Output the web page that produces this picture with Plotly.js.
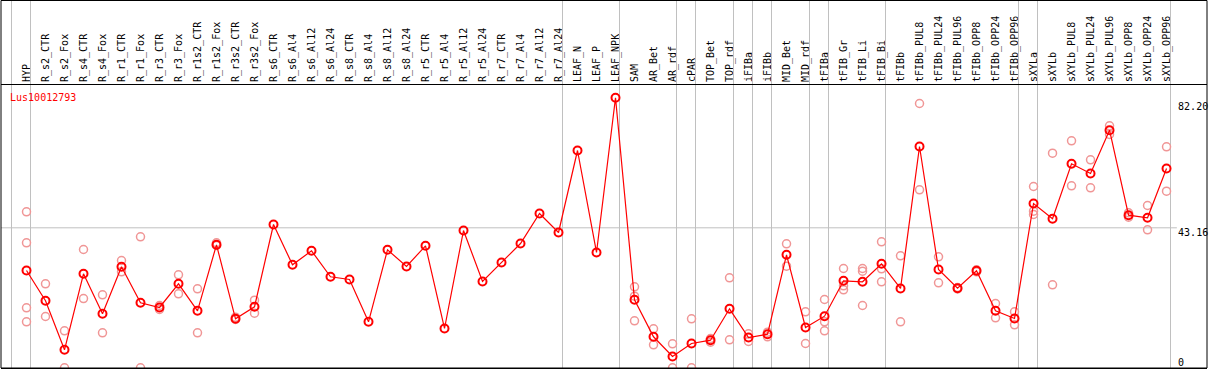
<!DOCTYPE html>
<html>
<head>
<meta charset="utf-8">
<script src="https://cdn.plot.ly/plotly-3.0.1.min.js"></script>
<style>html,body{margin:0;padding:0;background:#fff;}#chart{width:1209px;height:370px;}</style>
</head>
<body>
<div id="chart"></div>
<script>
const categories = ["HYP","R_s2_CTR","R_s2_Fox","R_s4_CTR","R_s4_Fox","R_r1_CTR","R_r1_Fox","R_r3_CTR","R_r3_Fox",
  "R_r1s2_CTR","R_r1s2_Fox","R_r3s2_CTR","R_r3s2_Fox","R_s6_CTR","R_s6_Al4","R_s6_Al12","R_s6_Al24",
  "R_s8_CTR","R_s8_Al4","R_s8_Al12","R_s8_Al24","R_r5_CTR","R_r5_Al4","R_r5_Al12","R_r5_Al24",
  "R_r7_CTR","R_r7_Al4","R_r7_Al12","R_r7_Al24","LEAF_N","LEAF_P","LEAF_NPK","SAM","AR_Bet","AR_rdf",
  "cPAR","TOP_Bet","TOP_rdf","iFIBa","iFIBb","MID_Bet","MID_rdf","tFIBa","tFIB_Gr","tFIB_Li","tFIB_Bi",
  "tFIBb","tFIBb_PUL8","tFIBb_PUL24","tFIBb_PUL96","tFIBb_OPP8","tFIBb_OPP24","tFIBb_OPP96",
  "sXYLa","sXYLb","sXYLb_PUL8","sXYLb_PUL24","sXYLb_PUL96","sXYLb_OPP8","sXYLb_OPP24","sXYLb_OPP96"];

const meanValues = [30.00,20.66,5.55,28.98,16.65,31.14,20.04,18.59,25.90,
  17.57,37.92,15.11,18.81,44.18,31.75,36.07,28.05,
  27.22,14.18,36.38,31.23,37.61,12.12,42.33,26.61,
  32.46,38.32,47.57,41.71,66.99,35.55,83.24,20.96,9.56,3.48,
  7.49,8.51,18.19,9.34,10.36,34.84,12.42,15.91,26.82,26.51,32.06,
  24.45,68.22,30.30,24.54,29.90,17.57,15.20,
  50.65,45.94,62.89,59.90,73.25,47.04,46.24,61.44];

const replicateValues = [
  [48.09,38.54,18.50,14.18],[25.90,15.82],[11.41,0.0],[36.47,21.36],[22.50,10.79],[33.08,29.60],[40.39,0.0],[19.21,17.97],[28.67,22.81],
  [24.35,10.79],[38.54,37.70],[15.60,14.89],[20.84,16.83],[],[],[],[],
  [],[],[],[],[],[],[],[],
  [],[],[],[],[],[],[],[24.97,22.07,14.49],[12.02,7.09],[7.40,0.0],
  [15.11,0.0],[9.03,7.89],[27.75,8.63],[10.48,8.11],[10.98,9.56],[38.23,31.32],[17.26,7.49],[21.06,14.18,11.41],[30.61,25.28,24.05],[30.61,29.78,19.21],[38.84,30.52,26.51],
  [34.53,14.18],[81.48,54.88],[34.22,26.20],[24.76,24.29],[30.21,29.60],[19.82,15.41],[17.26,13.26],
  [55.89,48.28,47.26],[66.16,25.59],[69.98,56.11],[64.12,55.49],[74.61,71.92],[47.78,46.43],[50.03,42.54],[68.13,54.44]];

const geneName = "Lus10012793";
const yTickVals = [0, 43.16, 82.20];
const yTickText = ["0", "43.16", "82.20"];
// categories after which a group separator is drawn (-1 = before the first)
const groupEndIndex = [-1, 0, 28, 31, 34, 35, 37, 38, 39, 41, 42, 45, 52, 53, 60];

const idx = categories.map((c, i) => i);
const repX = [], repY = [];
replicateValues.forEach((arr, i) => arr.forEach(v => { repX.push(i); repY.push(v); }));
const sepVals = groupEndIndex.map(i => i + 0.2);

const FONT = "DejaVu Sans Mono, monospace";
const GRAY = "rgb(192,192,192)";
const yRange = [-0.06, 87.18];
const headerFrac = 85 / 283;

const traces = [
  {x: repX, y: repY, type: "scatter", mode: "markers", hoverinfo: "skip",
   marker: {symbol: "circle-open", size: 8, color: "rgb(240,150,150)", line: {width: 1.5, color: "rgb(240,150,150)"}}},
  {x: idx, y: meanValues, type: "scatter", mode: "lines+markers",
   line: {color: "rgb(255,0,0)", width: 1.2},
   marker: {symbol: "circle-open", size: 8, color: "rgb(255,0,0)", line: {width: 2, color: "rgb(255,0,0)"}}},
  {x: [idx[0]], y: [yTickVals[0]], type: "scatter", mode: "markers", xaxis: "x2", yaxis: "y2",
   marker: {size: 0.1, opacity: 0}, hoverinfo: "skip"}
];

const layout = {
  width: 1209, height: 370,
  margin: {l: 1, r: 2, t: 85, b: 2, pad: 0},
  paper_bgcolor: "#fff", plot_bgcolor: "#fff",
  showlegend: false, hovermode: false,
  title: {text: geneName, font: {family: FONT, size: 10, color: "rgb(255,0,0)"},
          xref: "paper", x: 0.0075, xanchor: "left", yref: "paper", y: 0.955, yanchor: "middle", pad: {t: 0, b: 0, l: 0, r: 0}},
  xaxis: {range: [-1.342, 62.13], side: "top", tickmode: "array", tickvals: idx, ticktext: categories,
          tickangle: -90, tickfont: {family: FONT, size: 10, color: "#000"}, ticks: "", showgrid: false, zeroline: false,
          showline: true, mirror: true, linecolor: "#000", linewidth: 1, fixedrange: true},
  xaxis2: {range: [-1.342, 62.13], overlaying: "x", side: "top", anchor: "y", tickmode: "array", tickvals: sepVals,
           showticklabels: false, ticks: "outside", ticklen: 85, tickcolor: GRAY, tickwidth: 1,
           showgrid: true, gridcolor: GRAY, gridwidth: 1, zeroline: false, showline: false},
  yaxis: {range: yRange, side: "right", anchor: "free", position: 0.9752, tickmode: "array",
          tickvals: yTickVals.slice(1), ticktext: yTickText.slice(1), ticks: "", showgrid: false, zeroline: false,
          showline: false, tickfont: {family: FONT, size: 10, color: "#000"}, ticklabelshift: 5},
  yaxis2: {range: yRange, overlaying: "y", side: "right", anchor: "free", position: 0.9752, tickmode: "array",
           tickvals: yTickVals.slice(0, 1), ticktext: yTickText.slice(0, 1), ticks: "", showgrid: false, zeroline: false,
           showline: false, tickfont: {family: FONT, size: 10, color: "#000"}, ticklabelshift: -5},
  shapes: [
    {type: "line", xref: "paper", yref: "y", x0: 0, x1: 0.975, y0: yTickVals[1], y1: yTickVals[1],
     line: {color: GRAY, width: 1}, layer: "below"},
    {type: "rect", xref: "paper", yref: "paper", x0: 0, x1: 1, y0: 0, y1: 1 + headerFrac - 0.5/283,
     line: {color: "#000", width: 1}, layer: "above"}
  ]
};

Plotly.newPlot("chart", traces, layout, {staticPlot: true, displayModeBar: false});
</script>
</body>
</html>
